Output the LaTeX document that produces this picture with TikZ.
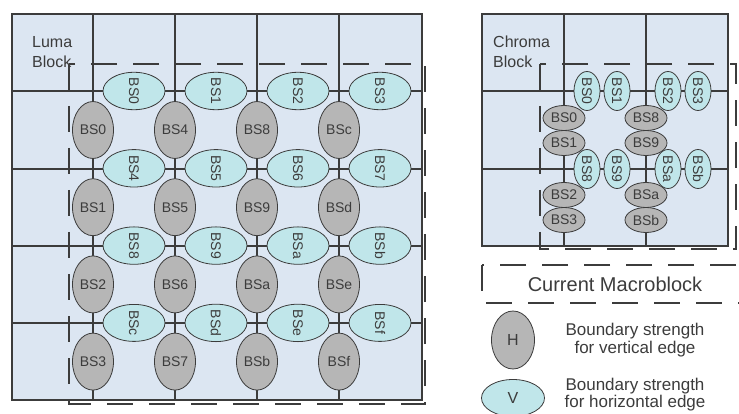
\documentclass[tikz,border=0pt]{standalone}
\usepackage{fontspec}
\setmainfont{Liberation Sans}
\usetikzlibrary{shapes.geometric}
\definecolor{blockblue}{HTML}{DCE6F2}
\definecolor{hgray}{HTML}{B6B6B6}
\definecolor{vcyan}{HTML}{C0E6EA}
\definecolor{inkgray}{HTML}{3C3C3C}
\tikzset{
  gridline/.style={draw=inkgray,line width=1.2pt},
  mbline/.style={draw=inkgray,line width=2pt,dash pattern=on 26pt off 16pt},
  bsfont/.style={font=\fontsize{14}{16}\selectfont,text=inkgray},
  hbs/.style={ellipse,draw=inkgray,line width=0.8pt,fill=hgray,inner sep=0pt,bsfont},
  vbs/.style={ellipse,draw=inkgray,line width=0.8pt,fill=vcyan,inner sep=0pt,bsfont,rotate=-90},
  lumah/.style={hbs,minimum width=41pt,minimum height=57pt},
  lumav/.style={vbs,minimum width=37pt,minimum height=62pt},
  chromah/.style={hbs,minimum width=42pt,minimum height=25pt},
  chromav/.style={vbs,minimum width=39pt,minimum height=26pt},
  blocklabel/.style={font=\fontsize{16}{20}\selectfont,text=inkgray,align=left,anchor=west,inner sep=0pt},
  legendtext/.style={font=\fontsize{17}{17.5}\selectfont,text=inkgray,align=center}
}
\begin{document}
\begin{tikzpicture}[x=1pt,y=-1pt]
  \clip (0,0) rectangle (739,414);
  \fill[white] (0,0) rectangle (739,414);
  % luma block
  \fill[blockblue] (12,14) rectangle (422,400);
  \foreach \gx in {93,175,257,339}
    \draw[gridline] (\gx,14) -- (\gx,400);
  \foreach \gy in {91,169,246,323}
    \draw[gridline] (12,\gy) -- (422,\gy);
  \draw[gridline] (12,14) rectangle (422,400);
  \node[blocklabel] (lumalabel) at (32,52) {Luma\\Block};
  \draw[mbline] (69,64) rectangle (425,404);
  \foreach \lbl [count=\k from 0] in {0,1,2,3,4,5,6,7,8,9,a,b,c,d,e,f}{
    \pgfmathtruncatemacro\col{\k/4}
    \pgfmathtruncatemacro\row{mod(\k,4)}
    \node[lumah] (lh\lbl) at ({93+82*\col},{130+77.2*\row}) {BS\lbl};
    \node[lumav] (lv\lbl) at ({134+82*\row},{91+77.3*\col}) {BS\lbl};
  }
  % chroma block
  \fill[blockblue] (482,14) rectangle (728,246);
  \foreach \gx in {564,646}
    \draw[gridline] (\gx,14) -- (\gx,246);
  \foreach \gy in {91,169}
    \draw[gridline] (482,\gy) -- (728,\gy);
  \draw[gridline] (482,14) rectangle (728,246);
  \node[blocklabel] (chromalabel) at (493,52) {Chroma\\Block};
  \draw[mbline] (540,64) rectangle (736,249);
  \foreach \lbl/\cx/\cy in {0/564/118,1/564/143,2/564/195,3/564/220,
                            8/646/118,9/646/143,a/646/195,b/646/220}
    \node[chromah] (ch\lbl) at (\cx,\cy) {BS\lbl};
  \foreach \lbl/\cx/\cy in {0/587/91,1/617/91,2/668/91,3/698/91,
                            8/587/169,9/617/169,a/668/169,b/698/169}
    \node[chromav] (cv\lbl) at (\cx,\cy) {BS\lbl};
  % legend
  \draw[mbline] (482,265) rectangle (760,303);
  \node[font=\fontsize{20}{24}\selectfont,text=inkgray] (mblabel) at (615,284) {Current Macroblock};
  \node[hbs,minimum width=43pt,minimum height=58pt,font=\fontsize{16}{18}\selectfont] (hkey) at (513,340) {H};
  \node[legendtext] (htext) at (635,340) {Boundary strength\\for vertical edge};
  \node[vbs,rotate=90,minimum width=63pt,minimum height=37pt,font=\fontsize{16}{18}\selectfont] (vkey) at (513,398) {V};
  \node[legendtext] (vtext) at (635,394.5) {Boundary strength\\for horizontal edge};
\end{tikzpicture}
\end{document}
